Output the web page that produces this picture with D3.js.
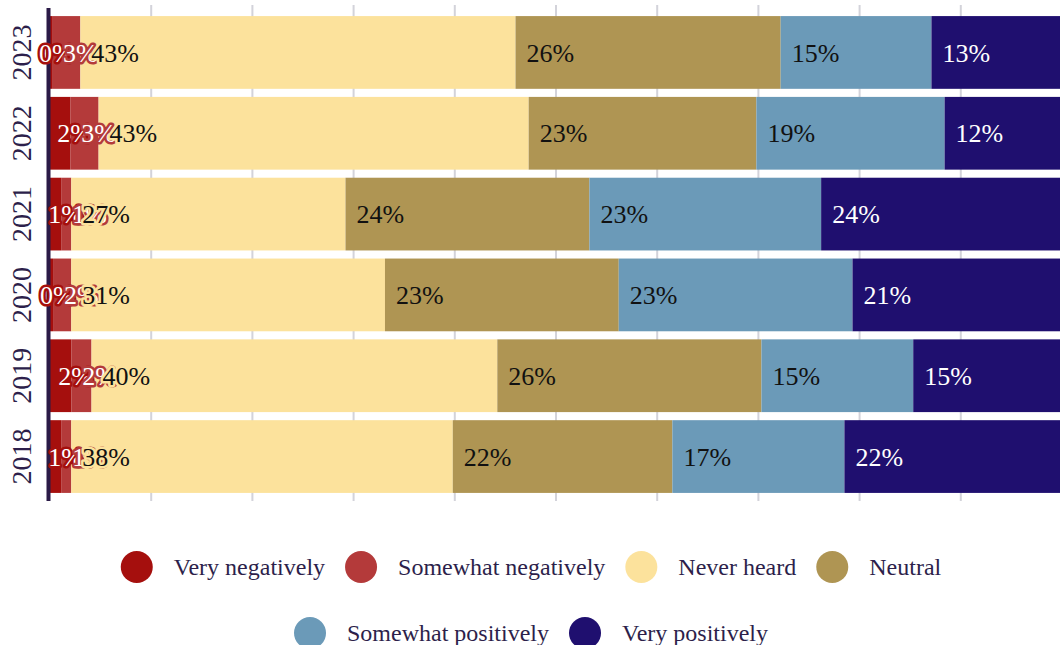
<!DOCTYPE html>
<html>
<head>
<meta charset="utf-8">
<script src="https://cdn.jsdelivr.net/npm/d3@7"></script>
<style>
  html, body { margin: 0; padding: 0; background: #fff; overflow: hidden; }
  svg { display: block; }
</style>
</head>
<body>
<svg id="chart" width="1060" height="645"></svg>
<script>
// ---- data ----
const years = ["2023", "2022", "2021", "2020", "2019", "2018"];
const seriesNames = ["Very negatively", "Somewhat negatively", "Never heard", "Neutral", "Somewhat positively", "Very positively"];
const veryNegatively     = [0.2, 2.0, 1.1, 0.3, 2.1, 1.1];
const somewhatNegatively = [2.8, 2.8, 1.0, 1.8, 2.0, 1.0];
const neverHeard         = [43.0, 42.5, 27.1, 31.0, 40.1, 37.7];
const neutral            = [26.2, 22.5, 24.1, 23.1, 26.1, 21.7];
const somewhatPositively = [14.9, 18.6, 22.9, 23.1, 15.0, 17.0];
const veryPositively     = [12.9, 11.6, 23.8, 20.7, 14.7, 21.5];
const gridTicks = [10, 20, 30, 40, 50, 60, 70, 80, 90, 100];

const colors = ["#a50f0d", "#b43a3a", "#fce29c", "#af9553", "#6b9ab8", "#1f0f6f"];
const labelColors = ["#ffffff", "#ffffff", "#111111", "#111111", "#111111", "#ffffff"];

// pick an installed serif face
function pickFont() {
  const c = document.createElement("canvas").getContext("2d");
  const sample = "Very negatively 0123456789%";
  const candidates = ["Liberation Serif", "DejaVu Serif", "Noto Serif", "Tinos", "Times New Roman", "FreeSerif", "Nimbus Roman", "Noto Serif CJK SC"];
  for (const f of candidates) {
    let differs = true;
    for (const base of ["monospace", "sans-serif"]) {
      c.font = `40px ${base}`;
      const w0 = c.measureText(sample).width;
      c.font = `40px "${f}", ${base}`;
      const w1 = c.measureText(sample).width;
      if (Math.abs(w1 - w0) < 0.01) differs = false;
    }
    if (differs) return `"${f}", serif`;
  }
  return "serif";
}
const fontFamily = pickFont();

const seriesValues = [veryNegatively, somewhatNegatively, neverHeard, neutral, somewhatPositively, veryPositively];
const rows = years.map((y, i) => {
  const r = { year: y };
  seriesNames.forEach((s, k) => r[s] = seriesValues[k][i]);
  return r;
});

const svg = d3.select("#chart").attr("font-family", fontFamily);

const x = d3.scaleLinear().domain([0, 100]).range([50, 1062]);
const y = d3.scaleBand().domain(years).range([8, 501]).paddingInner(0.1).paddingOuter(0.1);

const stacked = d3.stack().keys(seriesNames)(rows);

// grid
svg.append("g").selectAll("line").data(gridTicks).join("line")
  .attr("x1", d => x(d)).attr("x2", d => x(d))
  .attr("y1", 5).attr("y2", 501)
  .attr("stroke", "#d3d3da").attr("stroke-width", 2);

// bars
const layers = svg.append("g").selectAll("g").data(stacked).join("g")
  .attr("fill", (d, i) => colors[i]);
layers.selectAll("rect").data(d => d).join("rect")
  .attr("x", d => x(d[0]))
  .attr("width", d => x(d[1]) - x(d[0]))
  .attr("y", d => y(d.data.year))
  .attr("height", y.bandwidth());

// axis line
svg.append("line")
  .attr("x1", 48.5).attr("x2", 48.5)
  .attr("y1", 8).attr("y2", 501)
  .attr("stroke", "#2a1a47").attr("stroke-width", 4);

// labels
stacked.forEach((layer, i) => {
  svg.append("g").selectAll("text").data(layer).join("text")
    .attr("x", d => i === 0 ? x(d[1]) - 13 : x(d[0]) + 11)
    .attr("y", d => y(d.data.year) + y.bandwidth() / 2)
    .attr("dy", "0.35em")
    .attr("font-size", 26)
    .attr("fill", labelColors[i])
    .attr("stroke", colors[i])
    .attr("stroke-width", 5)
    .attr("stroke-linejoin", "round")
    .attr("paint-order", "stroke")
    .text(d => Math.round(d[1] - d[0]) + "%");
});

// y axis labels
svg.append("g").selectAll("text").data(years).join("text")
  .attr("transform", d => `translate(21,${y(d) + y.bandwidth() / 2}) rotate(-90)`)
  .attr("text-anchor", "middle")
  .attr("dy", "0.35em")
  .attr("font-size", 28)
  .attr("fill", "#2d1f4b")
  .text(d => d);

// legend
const legend = svg.append("g");
const r = 16, gapText = 21, gapItem = 20, maxW = 1040, centerX = 531;
const rowY = [567, 633];
const items = seriesNames.map((name, i) => {
  const g = legend.append("g");
  g.append("circle").attr("r", r).attr("cx", r).attr("cy", 0).attr("fill", colors[i]);
  const t = g.append("text").attr("x", 2 * r + gapText).attr("dy", "0.35em")
    .attr("font-size", 24).attr("fill", "#2d1f4b").text(name);
  const w = 2 * r + gapText + t.node().getComputedTextLength();
  return { g, w };
});
const lrows = [[]];
let cur = 0;
items.forEach(it => {
  const add = (lrows[lrows.length - 1].length ? gapItem : 0) + it.w;
  if (cur + add > maxW && lrows[lrows.length - 1].length) { lrows.push([]); cur = 0; }
  const row = lrows[lrows.length - 1];
  cur += (row.length ? gapItem : 0) + it.w;
  row.push(it);
});
lrows.forEach((row, ri) => {
  const total = d3.sum(row, d => d.w) + gapItem * (row.length - 1);
  let xx = centerX - total / 2;
  row.forEach(it => {
    it.g.attr("transform", `translate(${xx},${rowY[ri]})`);
    xx += it.w + gapItem;
  });
});
</script>
</body>
</html>
